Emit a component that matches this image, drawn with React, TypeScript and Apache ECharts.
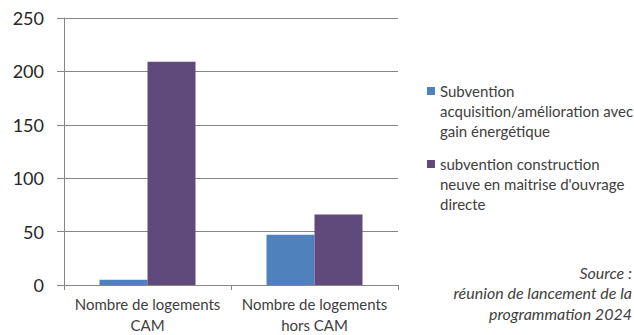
import React, { useEffect, useRef } from "react";
import * as echarts from "echarts";

const categories = ["Nombre de logements\nCAM", "Nombre de logements\nhors CAM"];
const seriesNames = [
  "Subvention acquisition/amélioration avec gain énergétique",
  "subvention construction neuve en maitrise d'ouvrage directe",
];
const legendLines = [
  ["Subvention", "acquisition/amélioration avec", "gain énergétique"],
  ["subvention construction", "neuve en maitrise d'ouvrage", "directe"],
];
const acquisitionValues = [5, 47];
const constructionValues = [209, 66];
const yTicks = [0, 50, 100, 150, 200, 250];
const sourceLines = ["Source :", "réunion de lancement de la", "programmation 2024"];
const colors = ["#4F81BD", "#604A7B"];

const FONT = "Lato, 'Liberation Sans', Arial, sans-serif";

export default function App() {
  const ref = useRef<HTMLDivElement>(null);
  useEffect(() => {
    if (!ref.current) return;
    const chart = echarts.init(ref.current, undefined, { renderer: "svg" });
    const legendGraphics: any[] = [];
    legendLines.forEach((lines, i) => {
      const top = 87 + i * 73;
      legendGraphics.push({
        type: "rect",
        x: 427,
        y: top,
        shape: { width: 8, height: 8 },
        style: { fill: colors[i] },
      });
      legendGraphics.push({
        type: "text",
        x: 440,
        y: top - 6,
        style: {
          text: lines.join("\n"),
          fill: "#404040",
          font: `15px ${FONT}`,
          lineHeight: 20,
          verticalAlign: "top",
        },
      });
    });
    chart.setOption({
      animation: false,
      textStyle: { fontFamily: FONT },
      grid: { left: 64, right: 236, top: 18, bottom: 50, containLabel: false },
      xAxis: {
        type: "category",
        data: categories,
        axisLine: { lineStyle: { color: "#868686" } },
        axisTick: { show: true, length: 5, lineStyle: { color: "#868686" } },
        axisLabel: {
          color: "#404040",
          fontSize: 15,
          lineHeight: 21,
          margin: 8,
          interval: 0,
          hideOverlap: false,
        },
      },
      yAxis: {
        type: "value",
        min: yTicks[0],
        max: yTicks[yTicks.length - 1],
        interval: 50,
        axisLine: { show: true, lineStyle: { color: "#868686" } },
        axisTick: { show: true, length: 7, lineStyle: { color: "#868686" } },
        splitLine: { lineStyle: { color: "#868686" } },
        axisLabel: { color: "#262626", fontSize: 18, margin: 20 },
      },
      series: [
        {
          name: seriesNames[0],
          type: "bar",
          data: acquisitionValues,
          itemStyle: { color: colors[0] },
          barWidth: 48,
          barGap: "0%",
        },
        {
          name: seriesNames[1],
          type: "bar",
          data: constructionValues,
          itemStyle: { color: colors[1] },
          barWidth: 48,
          barGap: "0%",
        },
      ],
      graphic: [
        ...legendGraphics,
        {
          type: "text",
          x: 632,
          y: 262,
          style: {
            text: sourceLines.join("\n"),
            fill: "#404040",
            font: `italic 16px ${FONT}`,
            lineHeight: 20.5,
            align: "right",
            verticalAlign: "top",
          },
        },
      ],
    });
    return () => chart.dispose();
  }, []);
  return (
    <div
      ref={ref}
      style={{ width: 634, height: 335, position: "absolute", left: 0, top: 0 }}
    />
  );
}
